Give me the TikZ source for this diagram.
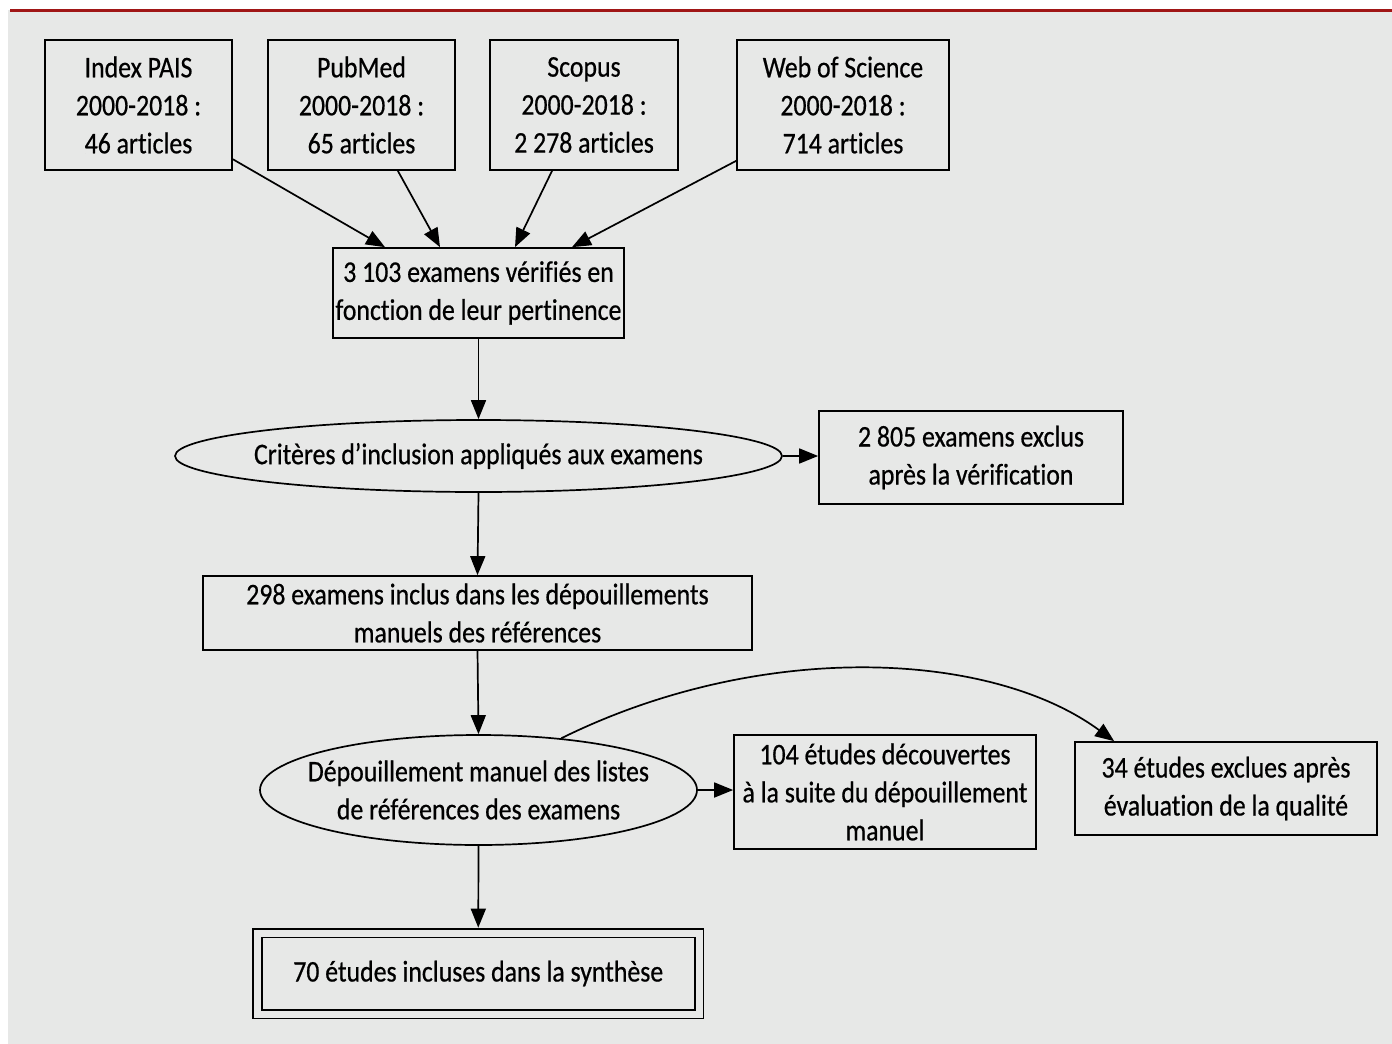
\documentclass[tikz,border=0pt]{standalone}
\usepackage{fontspec}
\setmainfont{Carlito}[FakeStretch=0.86, FakeBold=0.6, Ligatures=NoCommon]
\usetikzlibrary{shapes.geometric,arrows.meta,calc}
\definecolor{bggrey}{RGB}{231,232,231}
\definecolor{topred}{RGB}{160,22,22}
\begin{document}
\begin{tikzpicture}[x=1pt,y=-1pt,
  txt/.style={font=\fontsize{30}{38}\selectfont, align=center, text=black},
  box/.style={txt, draw=black, line width=1.7pt, rectangle, inner sep=0pt},
  oval/.style={txt, draw=black, line width=1.7pt, ellipse, inner xsep=-300pt, inner ysep=-100pt},
  arr/.style={draw=black, line width=1.7pt, -{Triangle[length=19pt,width=15pt]}}]
\fill[white] (0,0) rectangle (1392,1044);
\useasboundingbox (0,0) rectangle (1392,1044);
\fill[bggrey] (8,10) rectangle (1392,1044);
\draw[topred, line width=3pt] (10,10) -- (1392,10);

% sources
\node[box, minimum width=187pt, minimum height=130pt] (pais) at (138.5,105) {Index PAIS\\2000-2018 :\\46 articles};
\node[box, minimum width=187pt, minimum height=130pt] (pubmed) at (361.5,105) {PubMed\\2000-2018 :\\65 articles};
\node[box, minimum width=188pt, minimum height=130pt] (scopus) at (584,105) {Scopus\\2000-2018 :\\2 278 articles};
\node[box, minimum width=212pt, minimum height=130pt] (wos) at (843,105) {Web of Science\\2000-2018 :\\714 articles};

\node[box, minimum width=291pt, minimum height=90pt] (n3103) at (478.5,293) {3 103 examens vérifiés en\\fonction de leur pertinence};
\node[oval, minimum width=607pt, minimum height=72pt] (ell1) at (478.5,456) {Critères d’inclusion appliqués aux examens};
\node[box, minimum width=304pt, minimum height=93pt] (n2805) at (971,457.5) {2 805 examens exclus\\après la vérification};
\node[box, minimum width=549pt, minimum height=74pt] (n298) at (477.5,613) {298 examens inclus dans les dépouillements\\manuels des références};
\node[oval, minimum width=437pt, minimum height=110pt] (ell2) at (478.5,790) {Dépouillement manuel des listes\\de références des examens};
\node[box, minimum width=302pt, minimum height=114pt] (n104) at (885,792) {104 études découvertes\\à la suite du dépouillement\\manuel};
\node[box, minimum width=302pt, minimum height=93pt] (n34) at (1226,788.5) {34 études exclues après\\évaluation de la qualité};
\node[box, double, double=bggrey, double distance=7pt, minimum width=441.5pt, minimum height=81pt] (n70) at (478.25,973.5) {70 études incluses dans la synthèse};

% connectors
\draw[arr] (pais) -- ($(n3103.north)+(-93.5,0)$);
\draw[arr] (pubmed) -- ($(n3103.north)+(-38.5,0)$);
\draw[arr] (scopus) -- ($(n3103.north)+(36.5,0)$);
\draw[arr] (wos) -- ($(n3103.north)+(93.5,0)$);
\draw[arr] (n3103.south) -- (ell1.north);
\draw[arr] (ell1.east) -- (ell1.east -| n2805.west);
\draw[arr] (ell1.south) -- (n298.north);
\draw[arr] (n298.south) -- (ell2.north);
\draw[arr] (ell2.east) -- (ell2.east -| n104.west);
\draw[arr] (ell2.32) .. controls (760,640) and (990,650) .. ($(n34.north west)+(40,0)$);
\draw[arr, shorten >=4.5pt] (ell2.south) -- (n70.north);
\end{tikzpicture}
\end{document}
